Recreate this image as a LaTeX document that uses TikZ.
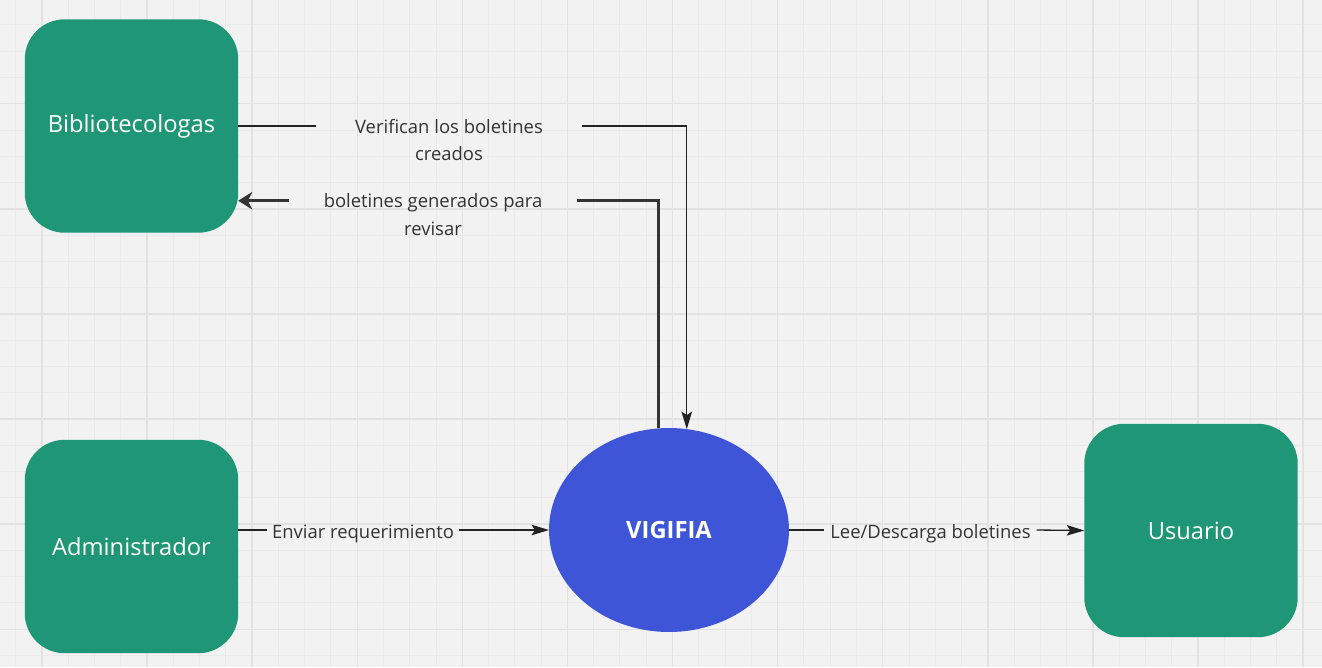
\documentclass[tikz,border=0pt]{standalone}
\usepackage{fontspec}
\setmainfont{Open Sans}
\usetikzlibrary{arrows.meta,shapes.geometric}
\definecolor{boardc}{RGB}{242,242,242}
\definecolor{minorc}{RGB}{234,234,234}
\definecolor{majorc}{RGB}{226,226,226}
\definecolor{actorc}{RGB}{31,150,118}
\definecolor{procc}{RGB}{63,85,216}
\definecolor{inkc}{RGB}{34,34,34}
\definecolor{textc}{RGB}{51,51,51}

\begin{document}
\begin{tikzpicture}[x=0.02cm, y=-0.02cm, >=Stealth,
  actor/.style={fill=actorc, rounded corners=0.8cm, minimum width=4.27cm,
    minimum height=4.27cm, outer sep=0pt, text=white,
    font=\fontsize{13.5}{16}\selectfont},
  proc/.style={ellipse, fill=procc, minimum width=4.8cm, minimum height=4.08cm,
    inner sep=0pt, outer sep=0pt, text=white,
    font=\fontsize{13.5}{16}\selectfont\bfseries},
  wire/.style={draw=inkc, line width=0.75pt},
  flow/.style={wire, -{Stealth[length=10pt, width=6pt, inset=2pt]}},
  thickwire/.style={draw=textc, line width=1.7pt},
  backflow/.style={thickwire, -{Stealth[length=8pt, width=10pt, inset=2.5pt]}},
  tag/.style={text=textc, font=\fontsize{10.5}{15.6}\selectfont,
    align=center, inner ysep=1pt, outer sep=0pt},
  tagone/.style={tag, yshift=-1.5pt},
  tagtwo/.style={tag, anchor=north, yshift=5pt}]

  % board with grid
  \fill[boardc] (0,0) rectangle (1322,667);
  \clip (0,0) rectangle (1322,667);
  \foreach \k in {0,...,50}
    \draw[minorc, line width=0.5pt] ({15.6+26.275*\k},0) -- ++(0,667);
  \foreach \k in {0,...,26}
    \draw[minorc, line width=0.5pt] (0,{-1.4+26.275*\k}) -- ++(1322,0);
  \foreach \k in {0,...,12}
    \draw[majorc, line width=0.8pt] ({41.9+105.1*\k},0) -- ++(0,667);
  \foreach \k in {1,...,6}
    \draw[majorc, line width=0.8pt] (0,{-1.4+105.1*\k}) -- ++(1322,0);

  % entities and process
  \node[actor] (bib) at (131.5,126) {Bibliotecologas};
  \node[actor] (adm) at (131.5,546.5) {Administrador};
  \node[actor] (usr) at (1191,530.5) {Usuario};
  \node[proc]  (vig) at (669,530) {VIGIFIA};

  % flow labels
  \node[tagtwo, inner xsep=0.78cm] (verif) at (449,126)
    {Verifican los boletines\\creados};
  \node[tagtwo, inner xsep=0.7cm] (gener) at (433,201)
    {boletines generados para\\revisar};
  \node[tagone, inner xsep=0.1cm] (req) at (363,531) {Enviar requerimiento};
  \node[tagone, inner xsep=0.12cm] (lee) at (930.5,531) {Lee/Descarga boletines};

  % data flows
  \draw[wire] (bib.east) -- (bib.east -| verif.west);
  \draw[flow] (bib.east -| verif.east) -| (vig.80);
  \draw[thickwire] (vig.96) |- (bib.-35.2 -| gener.east);
  \draw[backflow] (bib.-35.2 -| gener.west) -- (bib.-35.2);
  \draw[wire] (adm.east |- vig.west) -- (req.west |- vig.west);
  \draw[flow] (req.east |- vig.west) -- (vig.west);
  \draw[wire] (vig.east) -- (lee.west |- vig.east);
  \draw[flow] (lee.east |- vig.east) -- (usr.west);
\end{tikzpicture}
\end{document}
